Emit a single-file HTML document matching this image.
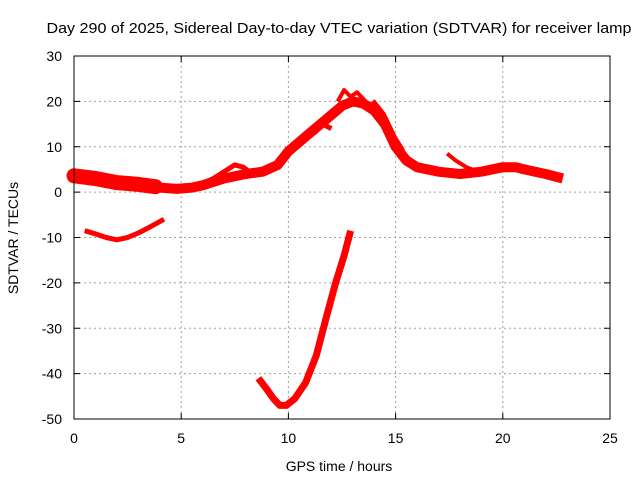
<!DOCTYPE html>
<html><head><meta charset="utf-8"><style>
body{margin:0;background:#fff;}
svg text{font-family:"Liberation Sans",sans-serif;font-size:14px;fill:#000;}
</style></head><body>
<svg id="chart" width="640" height="480">
<text x="339" y="33" text-anchor="middle" textLength="585" lengthAdjust="spacingAndGlyphs" style="font-size:15px">Day 290 of 2025, Sidereal Day-to-day VTEC variation (SDTVAR) for receiver lamp</text>
<g id="grid"></g>
<g id="marks"></g>
<rect x="74" y="56" width="536" height="363" fill="none" stroke="#000" stroke-width="1"/>
<g id="axes"></g>
<text x="339" y="471" text-anchor="middle">GPS time / hours</text>
<text transform="translate(18,238) rotate(-90)" text-anchor="middle">SDTVAR / TECUs</text>
</svg>
<script>
const xTicks=[0,5,10,15,20,25];
const yTicks=[30,20,10,0,-10,-20,-30,-40,-50];
const mainX=[0,1,2,3,4,4.8,5.5,6,7,8,8.8,9.5,10,11,12,12.5,13,13.5,14,14.5,15,15.5,16,17,18,19,20,20.6,21,22,22.8];
const mainY=[3.5,3,2,1.7,1,0.7,1,1.5,3,4,4.5,6,9,13,17,19,20,19.5,18,15,10,7,5.5,4.5,4,4.5,5.5,5.5,5,4,3];
const startX=[0,1,2,3,3.8];
const startY=[3.6,3,2.1,1.7,1.2];
const upperX=[5.8,6.5,7,7.5,7.9,8.3];
const upperY=[1.5,3,4.5,6,5.5,4];
const desc2X=[13.9,14.4,14.9,15.3];
const desc2Y=[20,17,12,9];
const branchX=[17.4,17.8,18.3,18.9];
const branchY=[8.5,7,5.5,4.5];
const spikeX=[11.2,11.6,12.0];
const spikeY=[13,15,14];
const peakX=[12.3,12.6,12.9,13.2,13.6];
const peakY=[20,22.5,21,22,20];
const seriesBX=[0.5,1,1.5,2,2.5,3,3.5,4,4.2];
const seriesBY=[-8.5,-9.2,-10,-10.5,-10,-9,-7.8,-6.5,-6];
const seriesCX=[8.6,9,9.3,9.6,9.9,10.3,10.8,11.3,11.8,12.2,12.6,12.9];
const seriesCY=[-41,-43.5,-45.5,-47,-47,-45.5,-42,-36,-27,-20,-14,-8.5];
const NS='http://www.w3.org/2000/svg';
const X=v=>74+v*536/25;
const Y=v=>56+(30-v)*363/80;
const grid=document.getElementById('grid'),axes=document.getElementById('axes'),marks=document.getElementById('marks');
function mk(tag,attrs,parent){const e=document.createElementNS(NS,tag);for(const k in attrs)e.setAttribute(k,attrs[k]);parent.appendChild(e);return e;}
xTicks.forEach(t=>{
 if(t>0&&t<25){const g=mk('line',{x1:X(t),x2:X(t),y1:56,y2:419,stroke:'#a0a0a0','stroke-dasharray':'2,3'},grid);
 
 }
 mk('line',{x1:X(t),x2:X(t),y1:419,y2:413,stroke:'#000'},axes);
 mk('line',{x1:X(t),x2:X(t),y1:56,y2:62,stroke:'#000'},axes);
 const l=mk('text',{x:X(t),y:443,'text-anchor':'middle'},axes);l.textContent=t;
 
 
});
yTicks.forEach(t=>{
 if(t<30&&t>-50){const g=mk('line',{x1:74,x2:610,y1:Y(t),y2:Y(t),stroke:'#a0a0a0','stroke-dasharray':'2,3'},grid);
 
 }
 mk('line',{x1:74,x2:80,y1:Y(t),y2:Y(t),stroke:'#000'},axes);
 mk('line',{x1:610,x2:604,y1:Y(t),y2:Y(t),stroke:'#000'},axes);
 const l=mk('text',{x:62,y:Y(t)+5,'text-anchor':'end'},axes);l.textContent=t;
 
 
});
function series(xs,ys,w,name,cap){
 const p=xs.map((x,i)=>X(x).toFixed(1)+','+Y(ys[i]).toFixed(1)).join(' ');
 const e=mk('polyline',{points:p,fill:'none',stroke:'#ff0000','stroke-width':w,'stroke-linejoin':'round','stroke-linecap':cap||'butt'},marks);
 
 
}
series(mainX,mainY,10,'main-track');
series(startX,startY,15,'main-track-start','round');
series(upperX,upperY,5,'upper-branch');
series(desc2X,desc2Y,7,'descent-branch');
series(branchX,branchY,4,'late-branch');
series(spikeX,spikeY,5,'spike-branch');
series(peakX,peakY,4,'peak-spikes');
series(seriesBX,seriesBY,5,'negative-track-early');
series(seriesCX,seriesCY,7,'negative-track-midday');
</script>
</body></html>
